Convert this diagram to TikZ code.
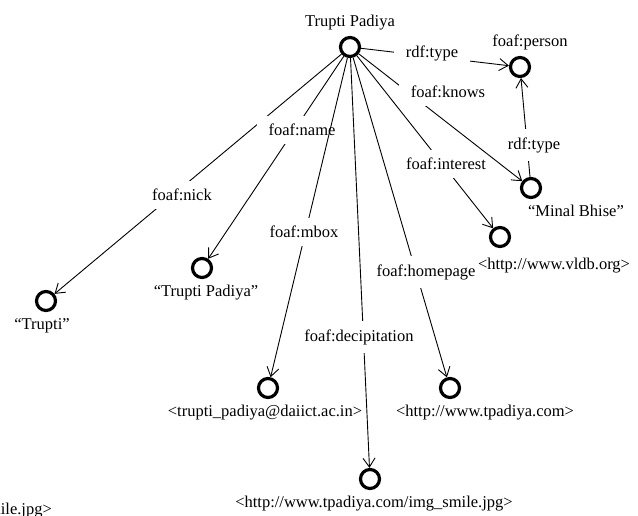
\documentclass[tikz,border=0pt]{standalone}
\usepackage{fontspec}
\setmainfont{Liberation Serif}
\usetikzlibrary{arrows.meta,backgrounds}

\begin{document}
\begin{tikzpicture}[x=1pt,y=-1pt,font=\fontsize{16.5}{19}\selectfont,
  res/.style={draw,circle,line width=3.2pt,minimum size=19pt,inner sep=0pt},
  lbl/.style={inner sep=1pt},
  prop/.style={fill=white,inner xsep=12pt,inner ysep=8pt},
  edge/.style={line width=0.9pt,-{Straight Barb[length=9pt,width=12pt]}},
  label distance=5pt]
\useasboundingbox (0,0) rectangle (638,516);
\clip (0,0) rectangle (638,516);
% resources and literals
\node[res,label={[lbl]above:{Trupti Padiya}}] (tp) at (350,47) {};
\node[res,label={[lbl,xshift=10pt]above:{foaf:person}}] (person) at (520,67) {};
\node[res,label={[lbl,xshift=45pt]below:{“Minal Bhise”}}] (minal) at (531,188) {};
\node[res,label={[lbl,xshift=54pt,yshift=-4pt]below:{<http://www.vldb.org>}}] (vldb) at (500,237) {};
\node[res,label={[lbl,xshift=-4pt]below:{“Trupti”}}] (nick) at (46,301) {};
\node[res,label={[lbl,xshift=4pt]below:{“Trupti Padiya”}}] (fullname) at (202,268) {};
\node[res,label={[lbl,xshift=-3pt]below:{<trupti\_padiya@daiict.ac.in>}}] (mbox) at (268,388) {};
\node[res,label={[lbl,xshift=35pt]below:{<http://www.tpadiya.com>}}] (homepage) at (450,388) {};
\node[res,label={[lbl,xshift=4pt]below:{<http://www.tpadiya.com/img\_smile.jpg>}}] (photo) at (370,479) {};
% cut-off text at the lower left
\node[lbl,anchor=east] (cut) at (53,511) {<http://www.tpadiya.com/img\_smile.jpg>};
% properties
\begin{scope}[on background layer]
\draw[edge] (tp) -- (nick) node[prop] at (182,195) {foaf:nick};
\draw[edge] (tp) -- (fullname) node[prop] at (302,130) {foaf:name};
\draw[edge] (tp) -- (mbox) node[prop] at (304,232) {foaf:mbox};
\draw[edge] (tp) -- (photo) node[prop] at (359,337) {foaf:decipitation};
\draw[edge] (tp) -- (homepage) node[prop] at (426,272) {foaf:homepage};
\draw[edge] (tp) -- (vldb) node[prop] at (446,164) {foaf:interest};
\draw[edge] (minal) -- (person) node[prop] at (534,145) {rdf:type};
\draw[edge] (tp) -- (minal) node[prop] at (448,92) {foaf:knows};
\draw[edge] (tp) -- (person) node[prop] at (432,53) {rdf:type};
\end{scope}
\end{tikzpicture}
\end{document}
